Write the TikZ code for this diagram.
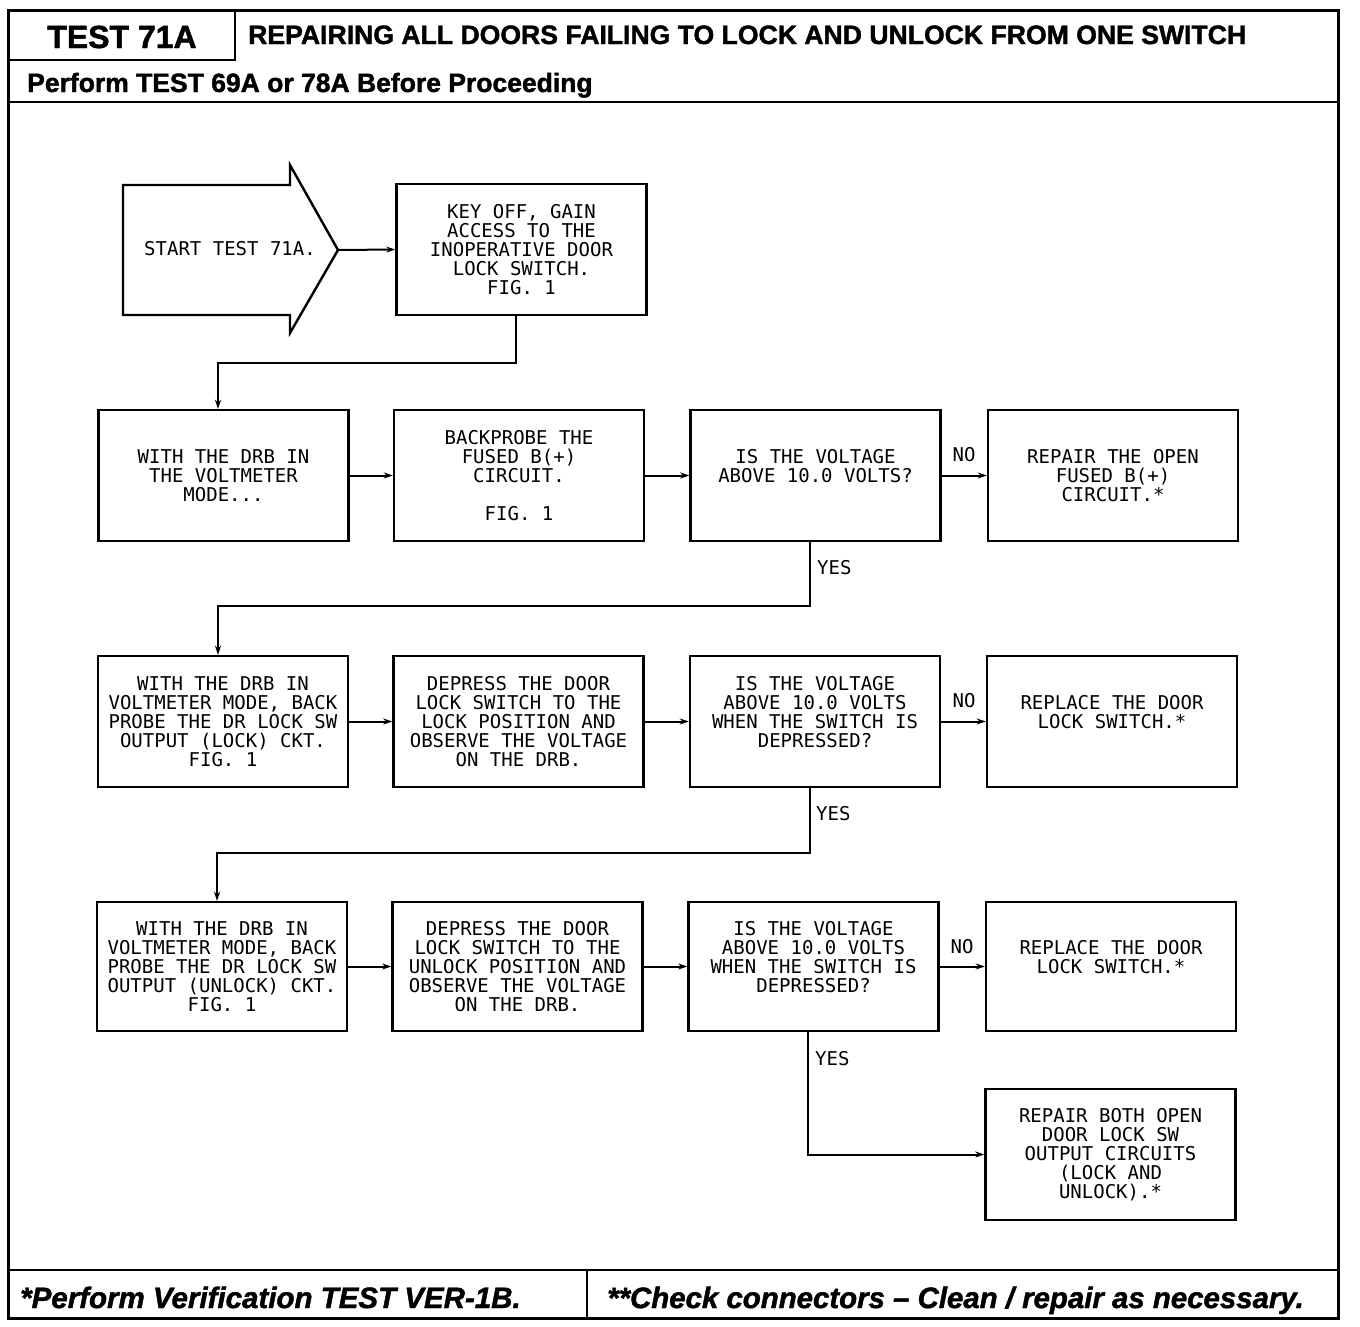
\documentclass[tikz,border=0pt]{standalone}
\usepackage{fontspec}
\setmainfont{Liberation Sans}
\newfontfamily\plotfont{DejaVu Sans Mono}
\newfontfamily\heavyfont{Liberation Sans Bold}[FakeBold=1.5]
\newfontfamily\heavyitfont{Liberation Sans Bold Italic}[FakeBold=1.5]
\usetikzlibrary{arrows.meta}
\begin{document}
\begin{tikzpicture}[x=1pt,y=-1pt,
  box/.style={draw,line width=2.4pt,minimum width=250pt,minimum height=131pt,align=center,inner sep=0pt,font={\plotfont\fontsize{19}{19}\selectfont}},
  lbl/.style={font={\plotfont\fontsize{19}{19}\selectfont},inner sep=0pt},
  arr/.style={line width=2pt,-{Stealth[length=9pt,width=6pt]}},
  frame/.style={line width=3pt},
  rule/.style={line width=2.6pt}]
\useasboundingbox (0,0) rectangle (1360,1326);
\fill[white] (0,0) rectangle (1360,1326);
% frame and header/footer
\draw[frame] (8,10) rectangle (1338,1318);
\draw[rule] (8,60) -| (235,10);
\draw[rule] (8,102) -- (1338,102);
\draw[rule] (8,1270) -- (1338,1270);
\draw[rule] (587,1270) -- (587,1318);
\node[anchor=base,inner sep=0pt,font={\heavyfont\fontsize{32}{32}\selectfont}] (testid) at (122,48) {TEST 71A};
\node[anchor=base west,inner sep=0pt,font={\heavyfont\fontsize{26.6}{26.6}\selectfont}] (title) at (248,44) {REPAIRING ALL DOORS FAILING TO LOCK AND UNLOCK FROM ONE SWITCH};
\node[anchor=base west,inner sep=0pt,font={\heavyfont\fontsize{26.5}{26.5}\selectfont}] (pre) at (27,92) {Perform TEST 69A or 78A Before Proceeding};
\node[anchor=base west,inner sep=0pt,font={\heavyitfont\fontsize{29.5}{29.5}\selectfont}] (fl) at (20,1308) {*Perform Verification TEST VER-1B.};
\node[anchor=base west,inner sep=0pt,font={\heavyitfont\fontsize{29.4}{29.4}\selectfont}] (fr) at (607,1308) {**Check connectors – Clean / repair as necessary.};
% start arrow
\draw[line width=2.4pt,line join=miter] (123,185) -- (290,185) -- (290,165) -- (338,250) -- (290,333) -- (290,315) -- (123,315) -- cycle;
\node[lbl] (start) at (230,249) {START TEST 71A.};
\coordinate (starttip) at (338,250);
% boxes
\node[box] (b1) at (521.5,249.5) {KEY OFF, GAIN\\ACCESS TO THE\\INOPERATIVE DOOR\\LOCK SWITCH.\\FIG. 1};
\node[box] (r2a) at (223.5,475.5) {WITH THE DRB IN\\THE VOLTMETER\\MODE...};
\node[box] (r2b) at (519,475.5) {BACKPROBE THE\\FUSED B(+)\\CIRCUIT.\\\mbox{}\\FIG. 1};
\node[box] (r2c) at (815.5,475.5) {IS THE VOLTAGE\\ABOVE 10.0 VOLTS?\\\mbox{}};
\node[box] (r2d) at (1113,475.5) {REPAIR THE OPEN\\FUSED B(+)\\CIRCUIT.*};
\node[box] (r3a) at (223,721.5) {WITH THE DRB IN\\VOLTMETER MODE, BACK\\PROBE THE DR LOCK SW\\OUTPUT (LOCK) CKT.\\FIG. 1};
\node[box] (r3b) at (518.5,721.5) {DEPRESS THE DOOR\\LOCK SWITCH TO THE\\LOCK POSITION AND\\OBSERVE THE VOLTAGE\\ON THE DRB.};
\node[box] (r3c) at (815,721.5) {IS THE VOLTAGE\\ABOVE 10.0 VOLTS\\WHEN THE SWITCH IS\\DEPRESSED?\\\mbox{}};
\node[box] (r3d) at (1112,721.5) {REPLACE THE DOOR\\LOCK SWITCH.*\\\mbox{}};
\node[box,minimum height=129pt] (r4a) at (222,966.5) {WITH THE DRB IN\\VOLTMETER MODE, BACK\\PROBE THE DR LOCK SW\\OUTPUT (UNLOCK) CKT.\\FIG. 1};
\node[box,minimum height=129pt] (r4b) at (517.5,966.5) {DEPRESS THE DOOR\\LOCK SWITCH TO THE\\UNLOCK POSITION AND\\OBSERVE THE VOLTAGE\\ON THE DRB.};
\node[box,minimum height=129pt] (r4c) at (813.5,966.5) {IS THE VOLTAGE\\ABOVE 10.0 VOLTS\\WHEN THE SWITCH IS\\DEPRESSED?\\\mbox{}};
\node[box,minimum height=129pt] (r4d) at (1111,966.5) {REPLACE THE DOOR\\LOCK SWITCH.*\\\mbox{}};
\node[box] (r5) at (1110.5,1154.5) {REPAIR BOTH OPEN\\DOOR LOCK SW\\OUTPUT CIRCUITS\\(LOCK AND\\UNLOCK).*};
% connectors
\draw[arr] (starttip) -- (b1.west);
\coordinate (j1) at (218,363);
\draw[arr] ([xshift=-5.5pt]b1.south) |- (j1) -- (j1 |- r2a.north);
\draw[arr] (r2a.east) -- (r2b.west);
\draw[arr] (r2b.east) -- (r2c.west);
\draw[arr] (r2c.east) -- (r2d.west);
\node[lbl] (no1) at (964,455) {NO};
\coordinate (j2) at (218,606);
\draw[arr] ([xshift=-5.5pt]r2c.south) |- (j2) -- (j2 |- r3a.north);
\node[lbl,anchor=west] (yes1) at (817,568) {YES};
\draw[arr] (r3a.east) -- (r3b.west);
\draw[arr] (r3b.east) -- (r3c.west);
\draw[arr] (r3c.east) -- (r3d.west);
\node[lbl] (no2) at (964,701) {NO};
\coordinate (j3) at (217,853);
\draw[arr] ([xshift=-5pt]r3c.south) |- (j3) -- (j3 |- r4a.north);
\node[lbl,anchor=west] (yes2) at (816,814) {YES};
\draw[arr] (r4a.east) -- (r4b.west);
\draw[arr] (r4b.east) -- (r4c.west);
\draw[arr] (r4c.east) -- (r4d.west);
\node[lbl] (no3) at (962,947) {NO};
\draw[arr] ([xshift=-5.5pt]r4c.south) |- (r5.west);
\node[lbl,anchor=west] (yes3) at (815,1059) {YES};
\end{tikzpicture}
\end{document}
